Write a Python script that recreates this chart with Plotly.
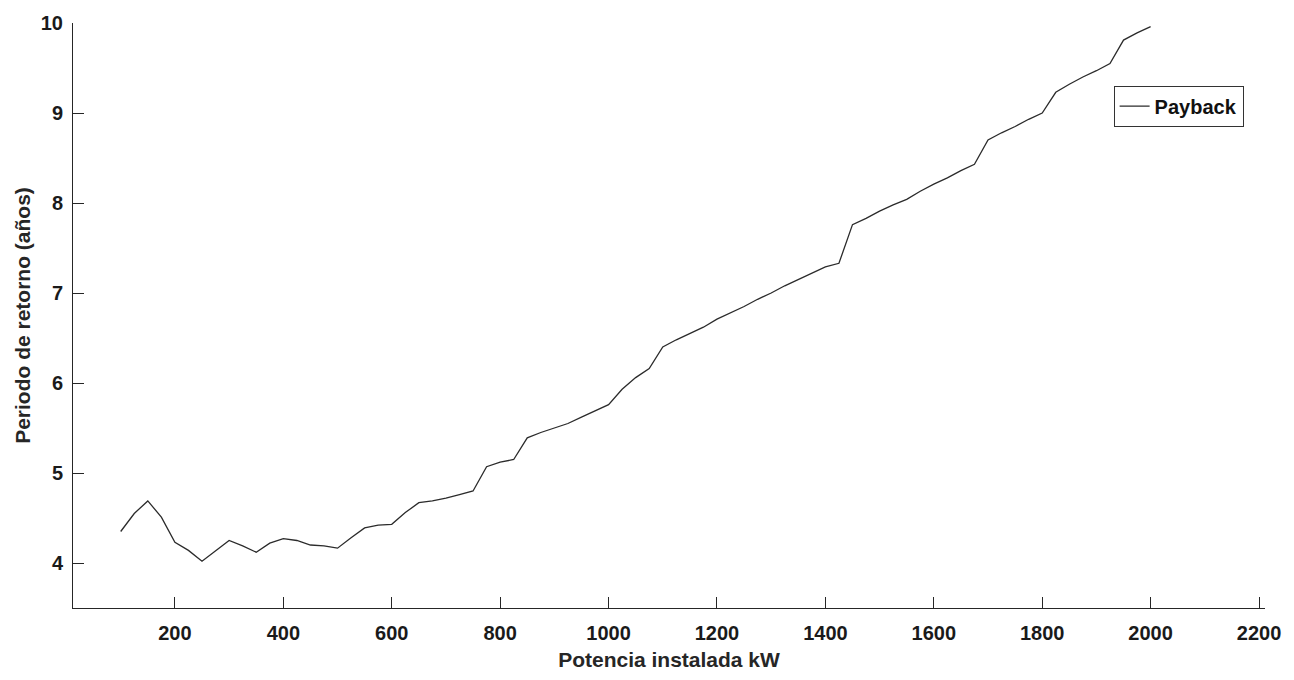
import plotly.graph_objects as go

# Installed capacity (kW)
potencia_kw = [
    100, 125, 150, 175, 200, 225, 250, 275, 300, 325, 350, 375, 400, 425, 450, 475,
    500, 525, 550, 575, 600, 625, 650, 675, 700, 725, 750, 775, 800, 825, 850, 875,
    900, 925, 950, 975, 1000, 1025, 1050, 1075, 1100, 1125, 1150, 1175, 1200, 1225,
    1250, 1275, 1300, 1325, 1350, 1375, 1400, 1425, 1450, 1475, 1500, 1525, 1550,
    1575, 1600, 1625, 1650, 1675, 1700, 1725, 1750, 1775, 1800, 1825, 1850, 1875,
    1900, 1925, 1950, 1975, 2000,
]

# Payback period (years)
payback_anos = [
    4.35, 4.55, 4.69, 4.51, 4.23, 4.14, 4.02, 4.14, 4.25, 4.19, 4.12, 4.22, 4.27, 4.25,
    4.20, 4.19, 4.165, 4.28, 4.39, 4.42, 4.43, 4.56, 4.67, 4.69, 4.72, 4.76, 4.80, 5.07,
    5.12, 5.15, 5.39, 5.45, 5.50, 5.55, 5.62, 5.69, 5.76, 5.93, 6.06, 6.16, 6.40, 6.48,
    6.55, 6.62, 6.71, 6.78, 6.85, 6.93, 7.00, 7.08, 7.15, 7.22, 7.29, 7.33, 7.76, 7.83,
    7.91, 7.98, 8.04, 8.13, 8.21, 8.28, 8.36, 8.43, 8.70, 8.78, 8.85, 8.93, 9.00, 9.23,
    9.32, 9.40, 9.47, 9.55, 9.81, 9.89, 9.96,
]

x_ticks = [200, 400, 600, 800, 1000, 1200, 1400, 1600, 1800, 2000, 2200]
y_ticks = [4, 5, 6, 7, 8, 9, 10]

FONT = "Liberation Sans, Arial, sans-serif"
AXIS_COLOR = "#262626"

fig = go.Figure()
fig.add_trace(go.Scatter(
    x=potencia_kw,
    y=payback_anos,
    mode="lines",
    name="Payback",
    line=dict(color="#2b2b2b", width=1.3),
))

axis_common = dict(
    showgrid=False,
    zeroline=False,
    showline=True,
    linecolor=AXIS_COLOR,
    linewidth=1,
    ticks="inside",
    ticklen=11,
    tickwidth=1,
    tickcolor=AXIS_COLOR,
    tickfont=dict(family=FONT, size=20, color="#1a1a1a", weight="bold"),
)

fig.update_xaxes(
    range=[12, 2211],
    tickvals=x_ticks,
    ticklabelstandoff=7,
    title=dict(text="Potencia instalada kW",
               font=dict(family=FONT, size=21, color="#262626", weight="bold"),
               standoff=9),
    **axis_common,
)
fig.update_yaxes(
    range=[3.5, 10],
    tickvals=y_ticks,
    ticklabelstandoff=5,
    title=dict(text="Periodo de retorno (años)",
               font=dict(family=FONT, size=21, color="#262626", weight="bold"),
               standoff=4),
    **axis_common,
)

fig.update_layout(
    width=1294,
    height=680,
    margin=dict(l=73, r=29, t=18, b=71),
    paper_bgcolor="white",
    plot_bgcolor="white",
    font=dict(family=FONT),
    showlegend=True,
    legend=dict(
        x=0.873, y=0.893, xanchor="left", yanchor="top",
        bgcolor="white",
        bordercolor="#333333",
        borderwidth=1,
        font=dict(family=FONT, size=20, color="#111111", weight="bold"),
        itemwidth=30,
        tracegroupgap=0,
    ),
)

fig.write_html("out.html")
